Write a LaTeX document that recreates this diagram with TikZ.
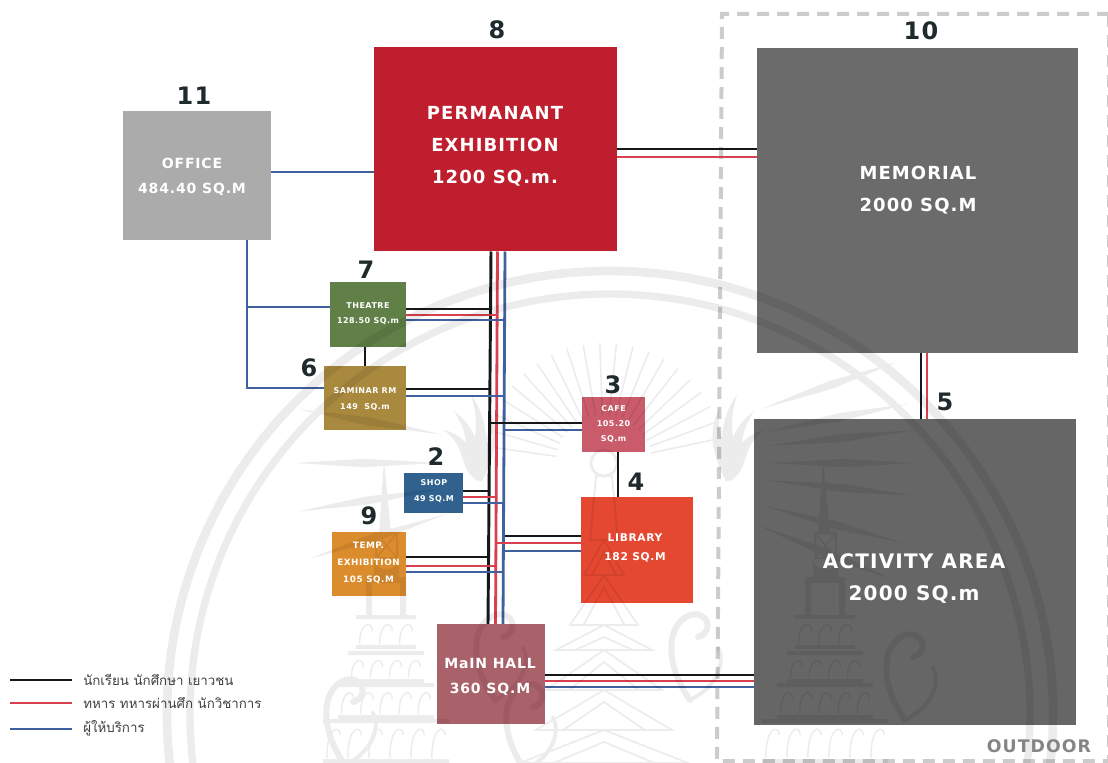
\documentclass[tikz,border=0pt]{standalone}
\usepackage{fontspec}
\setmainfont{DejaVu Sans}[LetterSpace=6]
\newfontfamily\thaifont[Script=Thai]{Loma}
\usetikzlibrary{calc}
\definecolor{cblack}{HTML}{15181A}
\definecolor{cred}{HTML}{D8404F}
\definecolor{cblue}{HTML}{3F619F}
\definecolor{cnum}{HTML}{1E2A2C}
\tikzset{
  box/.style 2 args={draw=none,inner sep=0pt,outer sep=0pt,anchor=north west,minimum width=#1*0.75pt,minimum height=#2*0.75pt},
  lbl/.style={text=white,font=\bfseries,align=center,inner sep=0pt},
  bigl/.style={lbl,font=\bfseries\fontsize{13.5}{24}\selectfont},
  hugel/.style={lbl,font=\bfseries\fontsize{15}{24}\selectfont},
  midl/.style={lbl,font=\bfseries\fontsize{10.5}{18.5}\selectfont},
  smll/.style={lbl,font=\bfseries\fontsize{8}{14}\selectfont},
  tinyl/.style={lbl,font=\bfseries\fontsize{6}{11.5}\selectfont},
  num/.style={text=cnum,font=\bfseries\fontsize{18}{18}\selectfont,inner sep=0pt},
  wk/.style={draw=cblack,line width=2.2pt},
  wr/.style={draw=cred,line width=2.1pt},
  wb/.style={draw=cblue,line width=2.1pt},
  legendt/.style={font=\thaifont\fontsize{10}{10}\selectfont,text=black!75,anchor=west,inner sep=0pt},
  chedi/.pic={
    \fill (-2,-273) -- (5,-200) -- (-7,-200) -- cycle;
    \draw[line width=1.5pt] (-10,-200) rectangle (11,-175);
    \draw[line width=1.2pt] (-10,-200) -- (11,-175) (11,-200) -- (-10,-175);
    \fill (-12,-175) .. controls (-12,-160) and (13,-160) .. (13,-175) -- (13,-155) -- (-12,-155) -- cycle;
    \fill (-20,-156) rectangle (20,-150);
    \fill (-20,-150) rectangle (-14,-118) (14,-150) rectangle (20,-118);
    \foreach \hw/\yt/\yb/\k in {30/-118/-84/3,38/-82/-50/4,48/-50/-14/5,63/-14/30/6}{
      \fill (-\hw,\yt) rectangle (\hw,\yt+4);
      \fill (-\hw,\yb-4) rectangle (\hw,\yb);
      \pgfmathsetmacro{\st}{2*\hw/\k}
      \foreach \i in {1,...,\k}{
        \pgfmathsetmacro{\xx}{-\hw+(\i-.5)*\st}
        \draw[line width=1.1pt] ({\xx-.32*\st},\yb-5) .. controls ({\xx-.32*\st},\yt+6) and ({\xx+.32*\st},\yt+6) .. ({\xx+.32*\st},\yt+16) ;
      }
    }
    \fill (-74,30) rectangle (74,36);
    \foreach \i in {-3,...,3}{\draw[line width=1.1pt] (\i*20-7,66) .. controls (\i*20-7,38) and (\i*20+7,38) .. (\i*20+7,52);}
  },
  swirl/.pic={
    \draw[line width=4.5pt,line cap=round] (0,60) .. controls (-25,25) and (-25,-15) .. (0,-25) .. controls (18,-30) and (25,-8) .. (8,-3) ;
    \draw[line width=3pt,line cap=round] (0,60) .. controls (30,45) and (35,20) .. (28,8);
  },
  flame/.pic={
    \foreach \s/\l in {0/1,14/.85,-14/.85,28/.7}{
      \begin{scope}[rotate=\s]
      \fill (0,0) .. controls (-10,-30*\l) and (8,-45*\l) .. (-5,-85*\l) .. controls (14,-60*\l) and (12,-30*\l) .. (6,0) -- cycle;
      \end{scope}
    }
  }
}
\begin{document}
\begin{tikzpicture}[x=0.75pt,y=-0.75pt]
\useasboundingbox (0,0) rectangle (1108,763);
\fill[white] (0,0) rectangle (1108,763);

% outdoor boundary
\coordinate (dTL) at (722,14);
\coordinate (dBL) at (717,761);
\coordinate (dBR) at (1109,761);
\coordinate (dTR) at (1109,14);
\draw[draw=black!20,line width=3pt,dash pattern=on 9pt off 6pt] (dTR) -- (dTL) -- (dBL) -- (dBR) -- (dTR);

% boxes
\node[box={147.5}{129.5},fill=black!33] (office) at (123,111) {};
\node[box={243}{204},fill={rgb,255:red,190;green,30;blue,45}] (perm) at (374,47.5) {};
\node[box={321}{305},fill=black!58] (memorial) at (757,48) {};
\node[box={322}{306},fill=black!60] (activity) at (754,419) {};
\node[box={76}{65},fill={rgb,255:red,97;green,128;blue,72}] (theatre) at (330,282) {};
\node[box={82}{64},fill={rgb,255:red,168;green,137;blue,62}] (seminar) at (324,366) {};
\node[box={63}{55},fill={rgb,255:red,201;green,91;blue,107}] (cafe) at (582,397) {};
\node[box={59}{40},fill={rgb,255:red,48;green,97;blue,143}] (shop) at (404,473) {};
\node[box={74}{64},fill={rgb,255:red,219;green,140;blue,45}] (temp) at (332,532) {};
\node[box={112}{106},fill={rgb,255:red,228;green,72;blue,48}] (library) at (581,497) {};
\node[box={108}{100},fill={rgb,255:red,170;green,98;blue,106}] (hall) at (437,624) {};

% buses
\coordinate (bkT) at (491,251.5); \coordinate (bkB) at (488,624);
\coordinate (rdT) at (497.5,251.5); \coordinate (rdB) at (495.5,624);
\coordinate (blT) at (505,251.5); \coordinate (blB) at (503,624);
\draw[wb] (blT) -- (blB);
\draw[wr] (rdT) -- (rdB);
\draw[wk] (bkT) -- (bkB);

% office links
\draw[wb] (office.east |- 0,172) -- (perm.west |- 0,172);
\draw[wb] (office.south -| 247,0) -- (247,388) -- (seminar.west |- 0,388);
\draw[wb] (247,307) -- (theatre.west |- 0,307);

% theatre
\draw[wk] (theatre.east |- 0,309) -- (491,309);
\draw[wr] (theatre.east |- 0,315) -- (497,315);
\draw[wb] (theatre.east |- 0,320) -- (505,320);
\draw[wk] (theatre.south -| 365,0) -- (seminar.north -| 365,0);
% seminar
\draw[wk] (seminar.east |- 0,389) -- (490,389);
\draw[wb] (seminar.east |- 0,396) -- (505,396);
% cafe
\draw[wk] (490,423) -- (cafe.west |- 0,423);
\draw[wb] (505,430) -- (cafe.west |- 0,430);
\draw[wk] (cafe.south -| 618,0) -- (library.north -| 618,0);
% shop
\draw[wk] (shop.east |- 0,491) -- (489,491);
\draw[wr] (shop.east |- 0,497) -- (496,497);
\draw[wb] (shop.east |- 0,503) -- (504,503);
% temp
\draw[wk] (temp.east |- 0,557) -- (488,557);
\draw[wr] (temp.east |- 0,566) -- (496,566);
\draw[wb] (temp.east |- 0,572) -- (503,572);
% library
\draw[wk] (505,536) -- (library.west |- 0,536);
\draw[wr] (496,543) -- (library.west |- 0,543);
\draw[wb] (504,551) -- (library.west |- 0,551);
% hall to activity
\draw[wk] (hall.east |- 0,675) -- (activity.west |- 0,675);
\draw[wr] (hall.east |- 0,681) -- (activity.west |- 0,681);
\draw[wb] (hall.east |- 0,687) -- (activity.west |- 0,687);
% perm to memorial
\draw[wk] (perm.east |- 0,149) -- (memorial.west |- 0,149);
\draw[wr] (perm.east |- 0,157) -- (memorial.west |- 0,157);
% memorial to activity
\draw[wk] (memorial.south -| 921,0) -- (activity.north -| 921,0);
\draw[wr] (memorial.south -| 927,0) -- (activity.north -| 927,0);

% seal watermark
\begin{scope}[transparency group,opacity=.075]
\begin{scope}
\clip (0,250) rectangle (1108,763);
\draw[line width=6.5pt,draw=black] (610,714) circle[radius=443];
\draw[line width=5.5pt,draw=black] (610,714) circle[radius=420];
\pic at (386,733) {chedi};
\pic at (825,733) {chedi};
\pic at (345,705) {swirl};
\pic at (495,640) {swirl};
\pic at (525,710) {swirl};
\pic at (690,640) {swirl};
\pic at (905,660) {swirl};
\pic at (476,480) {flame};
\pic[xscale=-1] at (732,480) {flame};
% rays
\foreach \a in {162,171,180,190,-19,-11,-6,0,6,15,22}{
  \fill ({604+165*cos(\a)},{463+165*sin(\a)}) -- ({604+240*cos(\a+1)},{463+240*sin(\a+1)}) -- ({604+310*cos(\a)},{463+310*sin(\a)}) -- ({604+240*cos(\a-1)},{463+240*sin(\a-1)}) -- cycle;
}
\foreach \a in {-172,-164,...,-8}{
  \draw[line width=1.2pt] ({604+48*cos(\a)},{463+48*sin(\a)}) -- ({604+120*cos(\a)},{463+120*sin(\a)});
}
% crown in the middle
\draw[line width=2pt] (604,463) circle[radius=13];
\draw[line width=1.5pt] (596,476) -- (612,476) -- (618,540) -- (590,540) -- cycle;
\foreach \hw/\yt/\yb in {20/540/575,34/575/625,48/625/650,58/650/690,68/690/730,84/730/763}{
  \draw[line width=1.3pt] (604-\hw,\yb) -- (604,\yt) -- (604+\hw,\yb) -- cycle;
  \draw[line width=1.3pt] (604-\hw*.6,\yb) -- (604,\yt+12) -- (604+\hw*.6,\yb);
}
\end{scope}
\end{scope}

% box labels
\node[bigl] (permT) at (495,146) {PERMANANT\\EXHIBITION\\1200 SQ.m.};
\node[bigl] (memT) at (918,190) {MEMORIAL\\2000 SQ.M};
\node[hugel] (actT) at (914,579) {ACTIVITY AREA\\2000 SQ.m};
\node[midl] (offT) at (192,177) {OFFICE\\484.40 SQ.M};
\node[midl] (hallT) at (490,677) {MaIN HALL\\360 SQ.M};
\node[smll] (libT) at (635,548) {LIBRARY\\182 SQ.M};
\node[tinyl] (theT) at (368,313.5) {THEATRE\\128.50 SQ.m};
\node[tinyl] (semT) at (365,399) {SAMINAR RM\\149\ \ SQ.m};
\node[tinyl] (cafT) at (613.5,424) {CAFE\\105.20\\SQ.m};
\node[tinyl] (shoT) at (434,491) {SHOP\\49 SQ.M};
\node[lbl,font=\bfseries\fontsize{6.6}{12.5}\selectfont] (tmpT) at (368.5,563) {TEMP.\\EXHIBITION\\105 SQ.M};

% numbers
\node[num] (n8) at (497,30) {8};
\node[num] (n10) at (921,31) {10};
\node[num] (n11) at (194,96) {11};
\node[num] (n7) at (366,270) {7};
\node[num] (n6) at (309,368) {6};
\node[num] (n3) at (613,385) {3};
\node[num] (n2) at (436,457) {2};
\node[num] (n4) at (636,482) {4};
\node[num] (n9) at (369,516) {9};
\node[num] (n5) at (945,402) {5};

\node[text=black!48,font=\bfseries\fontsize{13}{13}\selectfont,inner sep=0pt] (outd) at (1039,746) {OUTDOOR};

% legend
\coordinate (l1a) at (10,680); \coordinate (l1b) at (72,680);
\coordinate (l2a) at (10,703); \coordinate (l2b) at (72,703);
\coordinate (l3a) at (10,729); \coordinate (l3b) at (72,729);
\draw[wk] (l1a) -- (l1b);
\draw[wr] (l2a) -- (l2b);
\draw[wb] (l3a) -- (l3b);
\node[legendt] (lt1) at (83,680) {นักเรียน นักศึกษา เยาวชน};
\node[legendt] (lt2) at (83,703) {ทหาร ทหารผ่านศึก นักวิชาการ};
\node[legendt] (lt3) at (83,728) {ผู้ให้บริการ};
\end{tikzpicture}
\end{document}
